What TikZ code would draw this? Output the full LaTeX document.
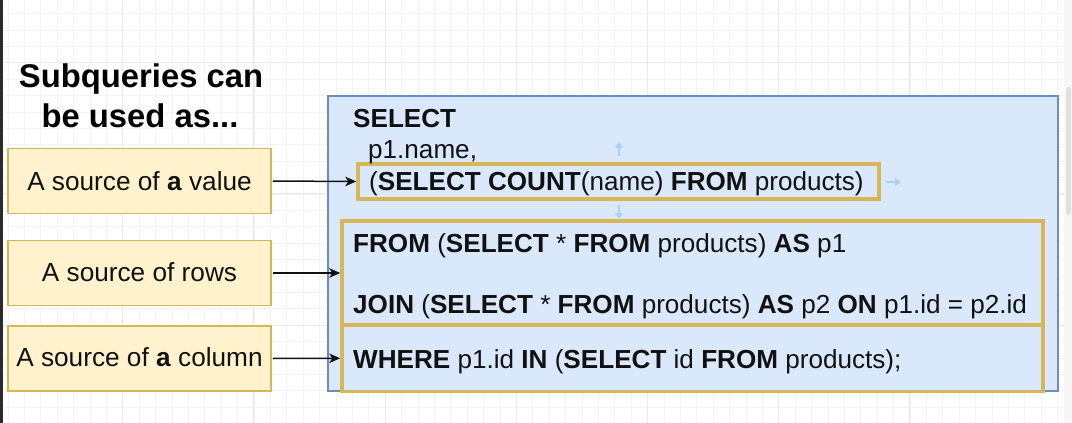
\documentclass[tikz,border=0pt]{standalone}
\usepackage{fontspec}
\setmainfont{Liberation Sans}
\usetikzlibrary{arrows.meta}
\definecolor{goldline}{HTML}{D6B656}
\definecolor{goldfill}{HTML}{FFF2CC}
\definecolor{blueline}{HTML}{6C8EBF}
\definecolor{bluefill}{HTML}{DAE8FC}
\definecolor{gridminor}{HTML}{F3F3F3}
\definecolor{gridmajor}{HTML}{E9E9E9}
\definecolor{uiblue}{HTML}{A9D1F2}
\definecolor{inkc}{HTML}{111111}
\definecolor{edgedark}{HTML}{2B2B2B}
\newcommand\sqlkw[1]{\textbf{#1}}
\tikzset{
  labelbox/.style={draw=goldline, fill=goldfill, line width=1.5pt, minimum width=263pt, minimum height=65pt, inner sep=0pt},
  querybox/.style={draw=blueline, fill=bluefill, line width=1.3pt, inner sep=0pt},
  goldframe/.style={draw=goldline, line width=3.5pt, inner sep=0pt},
  labeltext/.style={anchor=base, inner sep=0pt, text=inkc, font=\fontsize{26.2}{30}\selectfont},
  titletext/.style={anchor=base, inner sep=0pt, text=black, font=\fontsize{32.8}{36}\selectfont\bfseries},
  sqltext/.style={anchor=base west, inner sep=0pt, text=inkc, font=\fontsize{26.1}{29}\selectfont},
  pointer/.style={draw=inkc, line width=1.5pt, -{Stealth[length=11pt, width=9.5pt, inset=3pt]}},
  uiarrow/.style={draw=uiblue, line width=2pt, -{Triangle[length=6pt, width=8pt]}},
}
\begin{document}
\begin{tikzpicture}[x=1pt, y=-1pt]
\useasboundingbox (0,0) rectangle (1072,423);
\fill[white] (0,0) rectangle (1072,423);
% grid
\foreach \i in {0,...,64} {
  \pgfmathsetmacro\xx{7.9+16.4*\i}
  \draw[gridminor, line width=0.8pt] (\xx,0) -- (\xx,423);
}
\foreach \i in {0,...,25} {
  \pgfmathsetmacro\yy{13.5+16.4*\i}
  \draw[gridminor, line width=0.8pt] (0,\yy) -- (1064,\yy);
}
\foreach \i in {0,...,7} {
  \pgfmathsetmacro\xx{-8.5+131.2*\i}
  \draw[gridmajor, line width=0.9pt] (\xx,0) -- (\xx,423);
}
\foreach \i in {0,...,2} {
  \pgfmathsetmacro\yy{62.7+131.2*\i}
  \draw[gridmajor, line width=0.9pt] (0,\yy) -- (1064,\yy);
}
% window edges
\fill[edgedark] (0,0) rectangle (2.6,423);
\fill[white!97!black] (1064,0) rectangle (1072,423);
\fill[white!88!black, rounded corners=2.5pt] (1066,87) rectangle (1071,215);

% title
\node[titletext] (t1) at (141,87.3) {Subqueries can};
\node[titletext] (t2) at (140,127.3) {be used as...};

% left label boxes
\node[labelbox] (val) at (139.5,181) {};
\node[labeltext] (valt) at (139.5,190) {A source of \textbf{a} value};
\node[labelbox] (rows) at (139.5,273) {};
\node[labeltext] (rowst) at (139.5,281.7) {A source of rows};
\node[labelbox] (col) at (139.5,358.5) {};
\node[labeltext] (colt) at (139.5,366.7) {A source of \textbf{a} column};

% query box
\node[querybox, minimum width=730pt, minimum height=295pt] (query) at (693,243.5) {};

% gold frames
\node[goldframe, minimum width=521pt, minimum height=35pt] (valf) at (618.5,181.5) {};
\node[goldframe, minimum width=701pt, minimum height=104pt] (rowsf) at (692.5,273) {};
\node[goldframe, minimum width=701pt, minimum height=66.5pt] (colf) at (692.5,358.25) {};

% sql text
\node[sqltext] (l1) at (353,127) {\sqlkw{SELECT}};
\node[sqltext] (l2) at (368,158) {p1.name,};
\node[sqltext] (l3) at (369,190) {(\sqlkw{SELECT COUNT}(name) \sqlkw{FROM} products)};
\node[sqltext] (l4) at (353,252) {\sqlkw{FROM} (\sqlkw{SELECT} * \sqlkw{FROM} products) \sqlkw{AS} p1};
\node[sqltext] (l5) at (353,313) {\sqlkw{JOIN} (\sqlkw{SELECT} * \sqlkw{FROM} products) \sqlkw{AS} p2 \sqlkw{ON} p1.id = p2.id};
\node[sqltext] (l6) at (353,368) {\sqlkw{WHERE} p1.id \sqlkw{IN} (\sqlkw{SELECT} id \sqlkw{FROM} products);};

% connectors
\draw[pointer] (val.east) ++(1,0) -- (valf.west);
\draw[pointer] (rows.east) ++(1,0) -- (rowsf.west);
\draw[pointer] (col.east) ++(1,0) -- (colf.west);

% selection handles of the editor
\coordinate (upa) at (619,156);
\coordinate (upb) at (619,142);
\coordinate (dna) at (619,205);
\coordinate (dnb) at (619,219);
\coordinate (rta) at (886,182);
\coordinate (rtb) at (901,182);
\draw[uiarrow] (upa) -- (upb);
\draw[uiarrow] (dna) -- (dnb);
\draw[uiarrow] (rta) -- (rtb);
\end{tikzpicture}
\end{document}
